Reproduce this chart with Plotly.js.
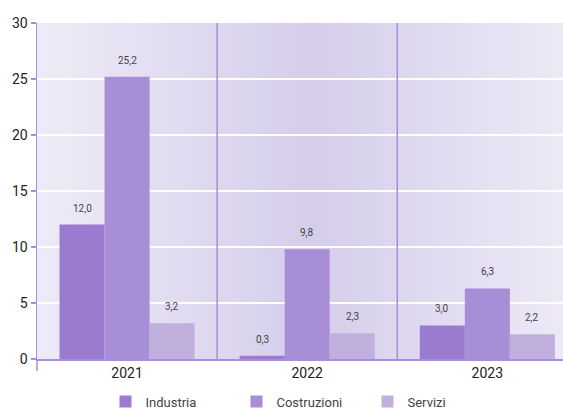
<!DOCTYPE html>
<html>
<head>
<meta charset="utf-8">
<script src="https://cdn.plot.ly/plotly-3.0.1.min.js"></script>
<style>html,body{margin:0;padding:0;background:#fff;}#chart{width:563px;height:408px;}</style>
</head>
<body>
<div id="chart"></div>
<script>
var years = ['2021', '2022', '2023'];
var seriesNames = ['Industria', 'Costruzioni', 'Servizi'];
var industria = [12.0, 0.3, 3.0];
var costruzioni = [25.2, 9.8, 6.3];
var servizi = [3.2, 2.3, 2.2];
var yTicks = [0, 5, 10, 15, 20, 25, 30];

var colors = ['#9a7bcf', '#a78ed6', '#c1b0de'];
var values = [industria, costruzioni, servizi];
var purple = '#a88dd8';
var bargap = 0.25;

var traces = values.map(function (v, i) {
  return {
    type: 'bar',
    name: seriesNames[i],
    x: years,
    y: v,
    marker: {color: colors[i], line: {width: 0}},
    hoverinfo: 'skip'
  };
});

// value labels above each bar (positions derived from category index + group offset)
var annotations = [];
var nS = values.length;
var bw = (1 - bargap) / nS;
values.forEach(function (v, i) {
  v.forEach(function (val, j) {
    annotations.push({
      xref: 'x', yref: 'y',
      x: j + (i - (nS - 1) / 2) * bw,
      y: val,
      text: val.toFixed(1).replace('.', ','),
      showarrow: false,
      yanchor: 'bottom',
      yshift: 9,
      font: {family: 'Roboto, sans-serif', size: 10, color: '#444'}
    });
  });
});

var svg = "<svg xmlns='http://www.w3.org/2000/svg' width='200' height='20' preserveAspectRatio='none'>" +
  "<defs><linearGradient id='g' x1='0' x2='1' y1='0' y2='0'>" +
  "<stop offset='0' stop-color='#eeebf7'/><stop offset='0.5' stop-color='#d5cdea'/><stop offset='1' stop-color='#eeebf7'/>" +
  "</linearGradient></defs><rect width='200' height='20' fill='url(#g)'/></svg>";
var svgUri = 'data:image/svg+xml;charset=utf-8,' + encodeURIComponent(svg);

var shapes = [];
for (var k = 1; k < years.length; k++) {
  shapes.push({type: 'line', xref: 'x', yref: 'paper', x0: k - 0.5, x1: k - 0.5, y0: 0, y1: 1,
    line: {color: purple, width: 1.5}, layer: 'above'});
}
shapes.push({type: 'line', xref: 'paper', yref: 'paper', x0: 0, x1: 0, y0: 0, y1: -0.036,
  line: {color: purple, width: 1.5}});

var layout = {
  width: 563, height: 408,
  margin: {l: 37, r: 0, t: 23, b: 49, pad: 0},
  paper_bgcolor: '#ffffff',
  plot_bgcolor: 'rgba(0,0,0,0)',
  separators: ',.',
  barmode: 'group',
  bargap: bargap,
  bargroupgap: 0,
  showlegend: true,
  font: {family: 'Roboto, sans-serif', color: '#333'},
  images: [{source: svgUri, xref: 'paper', yref: 'paper', x: 0, y: 1, sizex: 1.038, sizey: 1,
    sizing: 'stretch', xanchor: 'left', yanchor: 'top', layer: 'below'}],
  xaxis: {
    type: 'category',
    range: [-0.5, 2.42],
    showgrid: false,
    showline: true, linecolor: purple, linewidth: 2,
    ticks: '',
    tickfont: {size: 14, color: '#222'},
    zeroline: false,
    fixedrange: true
  },
  yaxis: {
    range: [0, 30],
    tickvals: yTicks,
    ticktext: yTicks.map(String),
    showgrid: true, gridcolor: '#ffffff', gridwidth: 1.5,
    showline: true, linecolor: purple, linewidth: 1.5,
    ticks: 'outside', ticklen: 5, tickcolor: purple, tickwidth: 1.5,
    tickfont: {size: 14, color: '#222'},
    zeroline: false,
    fixedrange: true
  },
  legend: {
    orientation: 'h',
    xref: 'container', yref: 'container',
    x: 0.5364, xanchor: 'center',
    y: 0.016, yanchor: 'middle',
    entrywidth: 86, entrywidthmode: 'pixels',
    font: {size: 13, color: '#444'},
    bgcolor: 'rgba(0,0,0,0)',
    traceorder: 'normal'
  },
  annotations: annotations,
  shapes: shapes
};

Plotly.newPlot('chart', traces, layout, {displayModeBar: false, staticPlot: true});
</script>
</body>
</html>
